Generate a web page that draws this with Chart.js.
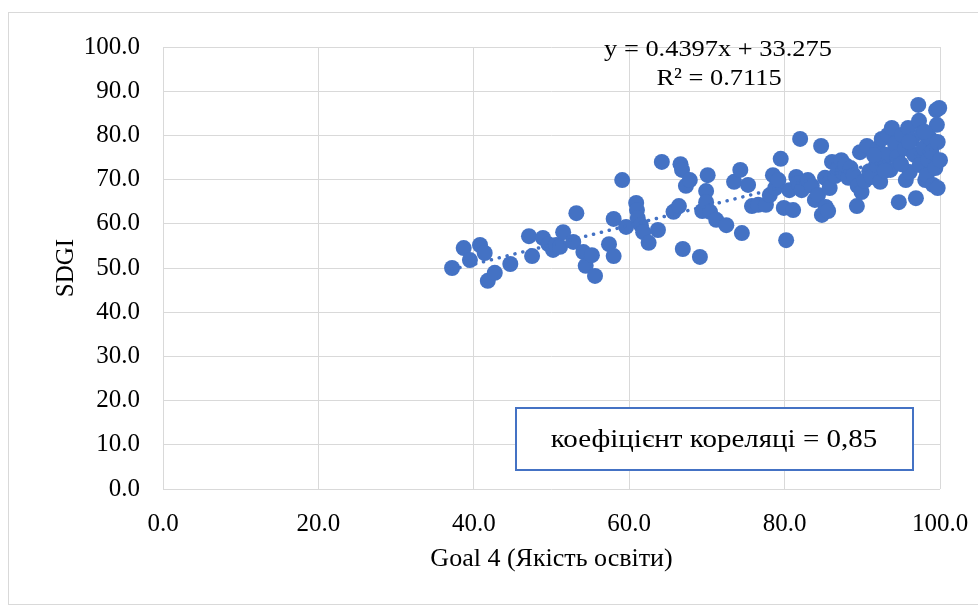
<!DOCTYPE html>
<html>
<head>
<meta charset="utf-8">
<script src="https://cdn.jsdelivr.net/npm/chart.js@4.4.0/dist/chart.umd.min.js"></script>
<style>
  html, body { margin: 0; padding: 0; background: #fff; }
  #wrap { position: absolute; left: 0; top: 0; width: 978px; height: 611px; }
</style>
</head>
<body>
<div id="wrap"><canvas id="myChart" width="978" height="611"></canvas></div>
<script>
// Goal 4 score (x) and SDGI (y) per country
var goal4 = [
    37.2, 38.7, 39.5, 40.8, 41.4, 41.8, 42.7, 44.7, 47.1, 47.5,
    48.9, 49.6, 50.2, 50.6, 51.5, 51.1, 52.8, 53.2, 54.1, 54.4,
    55.2, 55.6, 57.4, 58.0, 58.0, 59.1, 59.6, 60.9, 61.0, 61.1,
    61.5, 61.8, 62.5, 63.7, 64.2, 65.7, 66.4, 66.6, 66.8, 66.9,
    67.3, 67.8, 69.1, 69.4, 69.9, 69.9, 70.1, 70.4, 71.2, 72.5,
    73.5, 74.3, 74.5, 75.3, 75.8, 76.6, 77.6, 78.1, 78.5, 78.8,
    79.2, 79.5, 79.9, 80.2, 80.6, 81.1, 81.5, 81.7, 82.0, 82.2,
    83.0, 83.5, 83.9, 84.3, 84.7, 84.8, 85.2, 85.3, 85.6, 85.8,
    86.1, 86.5, 86.9, 87.3, 87.5, 87.8, 88.2, 88.5, 88.9, 89.3,
    89.4, 89.7, 89.9, 90.3, 90.6, 90.9, 91.2, 91.8, 92.0, 92.3,
    92.5, 92.8, 93.0, 93.3, 93.6, 93.8, 94.2, 94.5, 94.7, 95.1,
    95.5, 95.6, 95.9, 96.1, 96.4, 96.7, 96.9, 97.2, 97.3, 97.4,
    97.7, 97.9, 98.1, 98.3, 98.5, 98.7, 98.9, 99.1, 99.4, 99.5,
    99.6, 99.7, 99.7, 99.9, 100.0, 92.9, 95.0, 91.5, 96.0, 98.0
];
var sdgi = [
    50.0, 54.5, 51.8, 55.2, 53.4, 47.1, 48.9, 50.9, 57.2, 52.7,
    56.8, 55.4, 54.1, 55.2, 58.1, 54.8, 55.9, 62.4, 53.6, 50.5,
    52.9, 48.2, 55.4, 61.1, 52.7, 69.9, 59.3, 64.7, 63.1, 61.3,
    59.7, 58.1, 55.7, 58.6, 74.0, 62.7, 64.0, 73.5, 72.2, 54.3,
    68.6, 69.9, 52.5, 62.9, 67.4, 64.9, 71.0, 62.7, 60.9, 59.7,
    69.5, 72.2, 57.9, 68.8, 64.0, 64.3, 64.3, 66.5, 71.0, 68.1,
    69.9, 74.7, 63.6, 56.3, 67.6, 63.1, 70.6, 69.2, 79.2, 67.6,
    69.9, 68.6, 65.4, 66.5, 77.6, 62.0, 70.4, 63.8, 62.9, 68.1,
    74.0, 70.8, 72.6, 74.4, 71.7, 73.3, 70.4, 72.6, 71.0, 64.0,
    68.6, 76.2, 67.2, 69.7, 77.6, 71.9, 70.6, 73.3, 77.1, 69.5,
    79.2, 74.4, 75.6, 80.1, 72.2, 81.7, 78.1, 75.1, 64.9, 80.1,
    77.1, 69.9, 81.7, 71.7, 79.0, 75.6, 65.8, 86.9, 83.3, 73.3,
    80.5, 77.1, 69.9, 71.0, 74.4, 79.4, 76.2, 68.8, 72.6, 85.7,
    82.4, 78.5, 68.1, 86.2, 74.4, 72.0, 73.5, 75.5, 78.5, 80.8
];
var yTicks = [0, 10, 20, 30, 40, 50, 60, 70, 80, 90, 100];
var xTicks = [0, 20, 40, 60, 80, 100];

// linear trendline as given by the chart's equation
var trendSlope = 0.4397;
var trendIntercept = 33.275;
var trendLabel = ['y = 0.4397x + 33.275', 'R² = 0.7115'];
var corrLabel = 'коефіцієнт кореляці = 0,85';

var blue = '#4472C4';
var serif = '"Liberation Serif", "Times New Roman", serif';

var points = goal4.map(function (x, i) { return { x: x, y: sdgi[i] }; });
var xMin = Math.min.apply(null, goal4);
var xMax = Math.max.apply(null, goal4);
var trend = [
    { x: xMin, y: trendSlope * xMin + trendIntercept },
    { x: xMax, y: trendSlope * xMax + trendIntercept }
];

// text drawn a bit wider, as in the original
function wideText(c, text, x, y, sx) {
    c.save();
    c.translate(x, y);
    c.scale(sx, 1);
    c.fillText(text, 0, 0);
    c.restore();
}

var extras = {
    id: 'extras',
    beforeDraw: function (chart) {
        var c = chart.ctx;
        c.save();
        c.fillStyle = '#fff';
        c.fillRect(0, 0, chart.width, chart.height);
        c.strokeStyle = '#d9d9d9';
        c.lineWidth = 1;
        c.strokeRect(8.5, 12.5, 990, 592);
        c.restore();
    },
    afterDraw: function (chart) {
        var c = chart.ctx;
        c.save();
        c.fillStyle = '#000';
        c.font = '24px ' + serif;
        c.textAlign = 'center';
        c.textBaseline = 'middle';
        wideText(c, trendLabel[0], 718, 50, 1.1);
        wideText(c, trendLabel[1], 719, 79, 1.1);
        c.fillStyle = '#fff';
        c.fillRect(516, 408, 397, 62);
        c.strokeStyle = blue;
        c.lineWidth = 2;
        c.strokeRect(516, 408, 397, 62);
        c.fillStyle = '#000';
        c.font = '25px ' + serif;
        wideText(c, corrLabel, 714, 440, 1.16);
        c.restore();
    }
};

var ctx = document.getElementById('myChart').getContext('2d');
var myChart = new Chart(ctx, {
    type: 'scatter',
    data: {
        datasets: [{
            label: 'SDGI',
            data: points,
            backgroundColor: blue,
            borderColor: blue,
            pointRadius: 8,
            pointBorderWidth: 0,
            clip: false,
            order: 2
        },
        {
            type: 'line',
            label: 'Trend',
            data: trend,
            borderColor: blue,
            borderWidth: 3.5,
            borderDash: [0.1, 8],
            borderCapStyle: 'round',
            pointRadius: 0,
            fill: false,
            order: 1
        }]
    },
    options: {
        responsive: false,
        animation: false,
        layout: { padding: { top: 47, right: 38, left: 0, bottom: 0 } },
        plugins: {
            legend: { display: false },
            tooltip: { enabled: false }
        },
        scales: {
            x: {
                type: 'linear',
                min: 0,
                max: 100,
                afterBuildTicks: function (s) { s.ticks = xTicks.map(function (v) { return { value: v }; }); },
                afterFit: function (s) { s.height = 122; s.paddingLeft = 0; s.paddingRight = 0; },
                ticks: {
                    autoSkip: false,
                    maxRotation: 0,
                    padding: 20,
                    color: '#000',
                    font: { family: serif, size: 25 },
                    callback: function (v) { return v.toFixed(1); }
                },
                grid: { color: '#d9d9d9', lineWidth: 1, drawTicks: false },
                border: { display: false },
                title: {
                    display: true,
                    text: 'Goal 4 (Якість освіти)',
                    color: '#000',
                    font: { family: serif, size: 26 },
                    padding: { top: 0, bottom: 36 }
                }
            },
            y: {
                type: 'linear',
                min: 0,
                max: 100,
                afterBuildTicks: function (s) { s.ticks = yTicks.map(function (v) { return { value: v }; }); },
                afterFit: function (s) { s.width = 163; s.paddingTop = 0; s.paddingBottom = 0; },
                ticks: {
                    autoSkip: false,
                    padding: 23,
                    color: '#000',
                    font: { family: serif, size: 25 },
                    callback: function (v) { return v.toFixed(1); }
                },
                grid: { color: '#d9d9d9', lineWidth: 1, drawTicks: false },
                border: { display: false },
                title: {
                    display: true,
                    text: 'SDGI',
                    color: '#000',
                    font: { family: serif, size: 25 },
                    padding: { top: 51, bottom: 0 }
                }
            }
        }
    },
    plugins: [extras]
});
</script>
</body>
</html>
